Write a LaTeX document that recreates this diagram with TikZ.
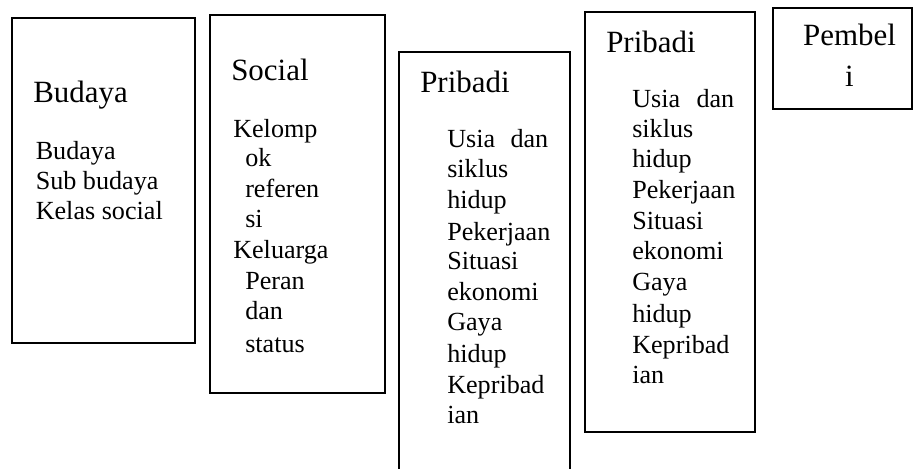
\documentclass[tikz,border=0pt]{standalone}
\usepackage{fontspec}
\setmainfont{Liberation Serif}
\begin{document}
\begin{tikzpicture}[x=0.75pt,y=-0.75pt,
  boxstyle/.style={draw=black,line width=1.5pt},
  titletext/.style={anchor=base west,inner sep=0pt,font=\fontsize{23.2pt}{27pt}\selectfont},
  bodytext/.style={anchor=base west,inner sep=0pt,font=\fontsize{19.6pt}{23pt}\selectfont},
  ctitle/.style={anchor=base,inner sep=0pt,font=\fontsize{23.2pt}{27pt}\selectfont}]
\useasboundingbox (0,0) rectangle (920,468);
\fill[white] (0,0) rectangle (920,468);
\begin{scope}
\clip (0,0) rectangle (920,468);
% boxes
\draw[boxstyle] (12,18) rectangle (195,343);
\draw[boxstyle] (210,15) rectangle (385,393);
\draw[boxstyle] (399,52) rectangle (570,485);
\draw[boxstyle] (585,12) rectangle (755,432);
\draw[boxstyle] (773,8) rectangle (912,109);
\end{scope}
% Budaya
\node[titletext] (t1) at (33,102) {Budaya};
\foreach \yy/\tx [count=\i] in {159/Budaya,189/Sub budaya,219/Kelas social}
  \node[bodytext] (b1l\i) at (35.5,\yy) {\tx};
% Social
\node[titletext] (t2) at (231,80) {Social};
\foreach \xx/\yy/\tx [count=\i] in {233/137/Kelomp,245/166/ok,245/197/referen,245/227/si,233/258/Keluarga,245/289/Peran,245/319/dan,245/352/status}
  \node[bodytext] (b2l\i) at (\xx,\yy) {\tx};
% Pribadi 1
\node[titletext] (t3) at (420,92) {Pribadi};
\node[bodytext] (b3l1) at (447,147) {\makebox[75.75pt][s]{Usia dan}};
\foreach \yy/\tx [count=\i] in {177/siklus,208/hidup,240/Pekerjaan,269/Situasi,300/ekonomi,330/Gaya,362/hidup,393/Kepribad,423/ian}
  \node[bodytext] (b3m\i) at (447,\yy) {\tx};
% Pribadi 2
\node[titletext] (t4) at (606,52) {Pribadi};
\node[bodytext] (b4l1) at (632,107) {\makebox[76.5pt][s]{Usia dan}};
\foreach \yy/\tx [count=\i] in {137/siklus,167/hidup,198/Pekerjaan,229/Situasi,259/ekonomi,290/Gaya,322/hidup,353/Kepribad,383/ian}
  \node[bodytext] (b4m\i) at (632,\yy) {\tx};
% Pembeli
\node[ctitle] (t5a) at (849.5,45) {Pembel};
\node[ctitle] (t5b) at (849.5,86) {i};
\end{tikzpicture}
\end{document}
